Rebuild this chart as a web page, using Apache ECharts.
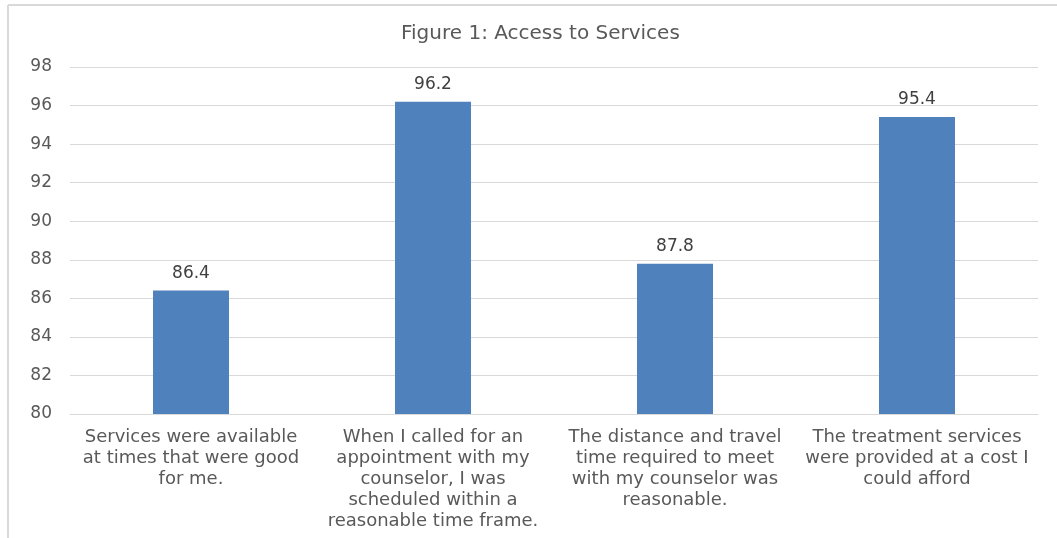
<!DOCTYPE html>
<html>
<head>
<meta charset="utf-8">
<script src="https://cdn.jsdelivr.net/npm/echarts@6/dist/echarts.min.js"></script>
<style>
  html, body { margin: 0; padding: 0; background: #fff; }
  #chart { width: 1057px; height: 538px; }
</style>
</head>
<body>
<div id="chart"></div>
<script>
// Survey items (line breaks as they wrap under each bar)
const categories = [
  'Services were available\nat times that were good\nfor me.',
  'When I called for an\nappointment with my\ncounselor, I was\nscheduled within a\nreasonable time frame.',
  'The distance and travel\ntime required to meet\nwith my counselor was\nreasonable.',
  'The treatment services\nwere provided at a cost I\ncould afford'
];
// Percent agreeing with each item
const values = [86.4, 96.2, 87.8, 95.4];

const chart = echarts.init(document.getElementById('chart'));
const textColor = '#595959';
const fontFamily = '"DejaVu Sans", "Open Sans", sans-serif';

chart.setOption({
  animation: false,
  textStyle: { fontFamily: fontFamily },
  title: {
    text: 'Figure 1: Access to Services',
    left: 396,
    top: 19,
    textStyle: { color: textColor, fontSize: 20, fontWeight: 'normal', fontFamily: fontFamily }
  },
  grid: { left: 70, right: 19, top: 67, bottom: 124 },
  xAxis: {
    type: 'category',
    data: categories,
    axisLine: { show: true, lineStyle: { color: '#d9d9d9', width: 1 } },
    axisTick: { show: false },
    axisLabel: {
      interval: 0,
      color: textColor,
      fontSize: 18,
      lineHeight: 21,
      margin: 13,
      fontFamily: fontFamily
    }
  },
  yAxis: {
    type: 'value',
    min: 80,
    max: 98,
    interval: 2,
    axisLine: { show: false },
    axisTick: { show: false },
    splitLine: { lineStyle: { color: '#d9d9d9', width: 1 } },
    axisLabel: { color: textColor, fontSize: 17, margin: 18, fontFamily: fontFamily }
  },
  series: [{
    type: 'bar',
    data: values,
    barWidth: 76,
    itemStyle: { color: '#4F81BD' },
    label: {
      show: true,
      position: 'top',
      distance: 9,
      color: '#404040',
      fontSize: 17,
      fontFamily: fontFamily
    }
  }],
  graphic: [
    { type: 'line', shape: { x1: 8, y1: 5, x2: 1057, y2: 5 }, style: { stroke: '#d9d9d9', lineWidth: 2 } },
    { type: 'line', shape: { x1: 8, y1: 5, x2: 8, y2: 538 }, style: { stroke: '#d9d9d9', lineWidth: 2 } }
  ]
});
</script>
</body>
</html>
